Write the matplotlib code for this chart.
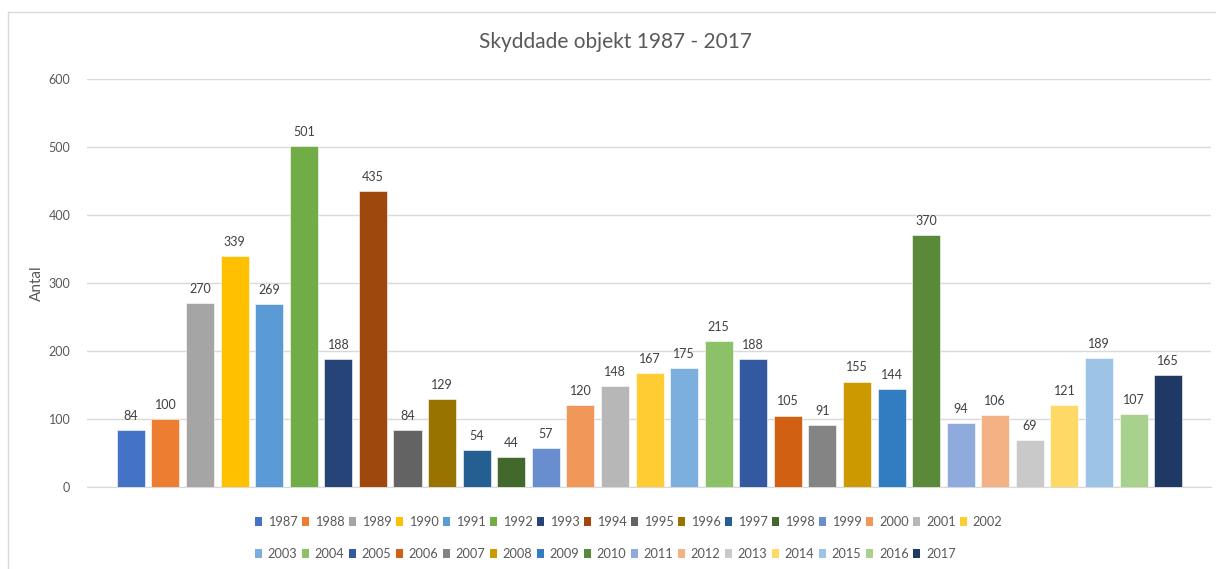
import matplotlib
matplotlib.use("Agg")
import matplotlib.pyplot as plt
from matplotlib.patches import Patch
from matplotlib.lines import Line2D

plt.rcParams['font.family'] = ['Lato', 'DejaVu Sans']

years = [str(y) for y in range(1987, 2018)]
values = [84, 100, 270, 339, 269, 501, 188, 435, 84, 129, 54, 44, 57, 120, 148,
          167, 175, 215, 188, 105, 91, 155, 144, 370, 94, 106, 69, 121, 189, 107, 165]
colors = ['#4472C4', '#ED7D31', '#A5A5A5', '#FFC000', '#5B9BD5', '#70AD47',
          '#264478', '#9E480E', '#636363', '#997300', '#255E91', '#43682B',
          '#698ED0', '#F1975A', '#B7B7B7', '#FFCD33', '#7CAFDD', '#8CC168',
          '#335AA1', '#D26012', '#848484', '#CC9A00', '#327DC2', '#5A8A39',
          '#8FAADC', '#F4B183', '#C9C9C9', '#FFD966', '#9DC3E6', '#A9D18E',
          '#203864']
title = 'Skyddade objekt 1987 - 2017'
ylabel = 'Antal'
yticks = [0, 100, 200, 300, 400, 500, 600]

W, H = 1216, 569
fig = plt.figure(figsize=(W / 100, H / 100), dpi=100)
ax = fig.add_axes([87 / W, 1 - 487 / H, (1211 - 87) / W, (487 - 79) / H])

handles = []
for i, (yr, v, c) in enumerate(zip(years, values, colors)):
    ax.bar(i, v, width=0.81, color=c, edgecolor='white', linewidth=0.4, zorder=3)
    ax.text(i, v + 12, str(v), ha='center', va='bottom', fontsize=9, color='#404040')
    handles.append(Patch(facecolor=c, edgecolor='none', label=yr))

ax.set_xlim(-1.27, 31.24)
ax.set_ylim(0, 600)
ax.set_yticks(yticks)
ax.set_xticks([])
ax.grid(axis='y', color='#D9D9D9', linewidth=1, zorder=0)
for s in ['top', 'right', 'left']:
    ax.spines[s].set_visible(False)
ax.spines['bottom'].set_color('#D9D9D9')
ax.tick_params(axis='y', length=0, labelsize=9, labelcolor='#595959', pad=12)
ax.set_ylabel(ylabel, fontsize=11, color='#595959', labelpad=3)

fig.text(615 / W, 1 - 42 / H, title, ha='center', va='center',
         fontsize=15, color='#595959')

# legend: row1 1987-2002, row2 2003-2017
order = []
for k in range(15):
    order.append(handles[k])
    order.append(handles[16 + k])
order.append(handles[15])
fig.legend(handles=order, ncol=16, loc='upper left',
           bbox_to_anchor=(255 / W, 1 - 516 / H), frameon=False,
           fontsize=9.2, labelcolor='#595959', handlelength=0.55, handleheight=0.65,
           handletextpad=0.45, columnspacing=0.35, labelspacing=1.55,
           borderpad=0, borderaxespad=0)

# chart border
fig.add_artist(Line2D([8 / W, 8 / W], [0, 1 - 12 / H], color='#D9D9D9', lw=1,
                      transform=fig.transFigure))
fig.add_artist(Line2D([8 / W, 1], [1 - 12 / H, 1 - 12 / H], color='#D9D9D9', lw=1,
                      transform=fig.transFigure))

fig.savefig('out.png', dpi=100, facecolor='white')
